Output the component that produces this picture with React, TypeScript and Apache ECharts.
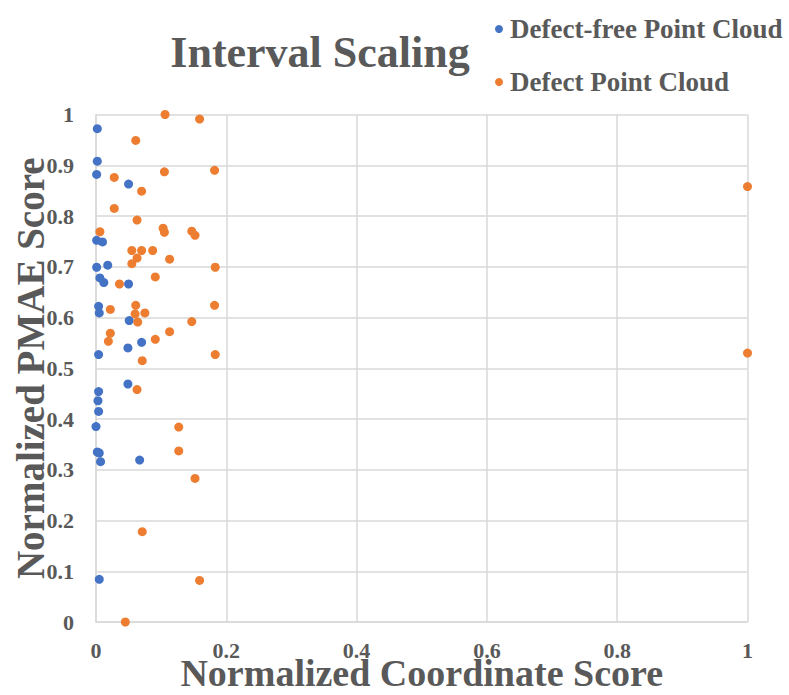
import React, { useEffect, useRef } from "react";
import * as echarts from "echarts";

const titleText = "Interval Scaling";
const seriesNames = ["Defect-free Point Cloud", "Defect Point Cloud"];
const xAxisName = "Normalized Coordinate Score";
const yAxisName = "Normalized PMAE Score";

const defectFreeX = [0.002, 0.002, 0.001, 0.05, 0.001, 0.01, 0.018, 0.001, 0.006, 0.012, 0.05, 0.004, 0.005, 0.051, 0.07, 0.049, 0.004, 0.049, 0.004, 0.003, 0.004, 0.0, 0.002, 0.005, 0.007, 0.067, 0.005];
const defectFreeY = [0.972, 0.908, 0.882, 0.863, 0.752, 0.749, 0.703, 0.699, 0.678, 0.669, 0.666, 0.622, 0.609, 0.594, 0.551, 0.54, 0.527, 0.469, 0.454, 0.436, 0.415, 0.385, 0.335, 0.333, 0.316, 0.319, 0.084];

const defectX = [0.106, 0.159, 0.061, 0.105, 0.182, 0.028, 0.07, 0.028, 0.063, 0.006, 0.103, 0.105, 0.147, 0.152, 0.055, 0.07, 0.087, 0.063, 0.113, 0.055, 0.183, 0.091, 0.036, 0.061, 0.182, 0.022, 0.06, 0.075, 0.064, 0.147, 0.113, 0.022, 0.019, 0.091, 0.183, 0.071, 0.063, 0.127, 0.127, 0.152, 0.071, 0.159, 0.045, 1.0, 1.0];
const defectY = [1.0, 0.991, 0.949, 0.887, 0.89, 0.876, 0.849, 0.815, 0.792, 0.769, 0.776, 0.768, 0.77, 0.762, 0.732, 0.732, 0.732, 0.717, 0.715, 0.706, 0.699, 0.68, 0.666, 0.624, 0.624, 0.616, 0.607, 0.609, 0.591, 0.592, 0.572, 0.569, 0.553, 0.557, 0.527, 0.515, 0.458, 0.384, 0.337, 0.283, 0.178, 0.082, 0.0, 0.858, 0.53];

const FONT = "'Liberation Serif', 'Times New Roman', serif";
const GREY = "#595959";

export default function App() {
  const ref = useRef<HTMLDivElement>(null);
  useEffect(() => {
    if (!ref.current) return;
    const chart = echarts.init(ref.current, undefined, { renderer: "svg" });
    const free = defectFreeX.map((x, i) => [x, defectFreeY[i]]);
    const def = defectX.map((x, i) => [x, defectY[i]]);
    chart.setOption({
      animation: false,
      backgroundColor: "#ffffff",
      graphic: [
        {
          type: "text",
          x: 320,
          y: 52,
          style: {
            text: titleText,
            font: `bold 44px ${FONT}`,
            fill: GREY,
            textAlign: "center",
            textVerticalAlign: "middle",
          },
        },
      ],
      legend: {
        orient: "vertical",
        left: 490,
        top: 10,
        itemGap: 25,
        itemWidth: 8,
        itemHeight: 8,
        icon: "circle",
        data: seriesNames,
        textStyle: {
          fontFamily: FONT,
          fontWeight: "bold",
          fontSize: 27,
          color: GREY,
          lineHeight: 28,
          padding: [0, 0, 0, 2],
        },
      },
      grid: {
        left: 96,
        right: 41.5,
        top: 114.5,
        bottom: 73,
        containLabel: false,
        outerBoundsMode: "none",
      },
      xAxis: {
        type: "value",
        min: 0,
        max: 1,
        interval: 0.2,
        name: xAxisName,
        nameLocation: "middle",
        nameGap: 37,
        nameMoveOverlap: false,
        nameTextStyle: {
          fontFamily: FONT,
          fontWeight: "bold",
          fontSize: 38,
          color: GREY,
          lineHeight: 28,
        },
        axisLine: { show: true, lineStyle: { color: "#d9d9d9", width: 1.5 } },
        axisTick: { show: false },
        splitLine: { show: true, lineStyle: { color: "#d9d9d9", width: 1.5 } },
        axisLabel: {
          margin: 19,
          fontFamily: FONT,
          fontWeight: "bold",
          fontSize: 22,
          color: GREY,
          lineHeight: 18,
        },
      },
      yAxis: {
        type: "value",
        min: 0,
        max: 1,
        interval: 0.1,
        name: yAxisName,
        nameLocation: "middle",
        nameGap: 46,
        nameRotate: 90,
        nameMoveOverlap: false,
        nameTextStyle: {
          fontFamily: FONT,
          fontWeight: "bold",
          fontSize: 39,
          color: GREY,
        },
        axisLine: { show: true, lineStyle: { color: "#d9d9d9", width: 1.5 } },
        axisTick: { show: false },
        splitLine: { show: true, lineStyle: { color: "#d9d9d9", width: 1.5 } },
        axisLabel: {
          margin: 22,
          fontFamily: FONT,
          fontWeight: "bold",
          fontSize: 22,
          color: GREY,
        },
      },
      series: [
        {
          name: seriesNames[0],
          type: "scatter",
          data: free,
          symbolSize: 9,
          itemStyle: { color: "#4472C4", opacity: 1 },
        },
        {
          name: seriesNames[1],
          type: "scatter",
          data: def,
          symbolSize: 9,
          itemStyle: { color: "#ED7D31", opacity: 1 },
        },
      ],
    });
    return () => chart.dispose();
  }, []);
  return (
    <div
      ref={ref}
      style={{ position: "fixed", left: 0, top: 0, width: 789, height: 695 }}
    />
  );
}
